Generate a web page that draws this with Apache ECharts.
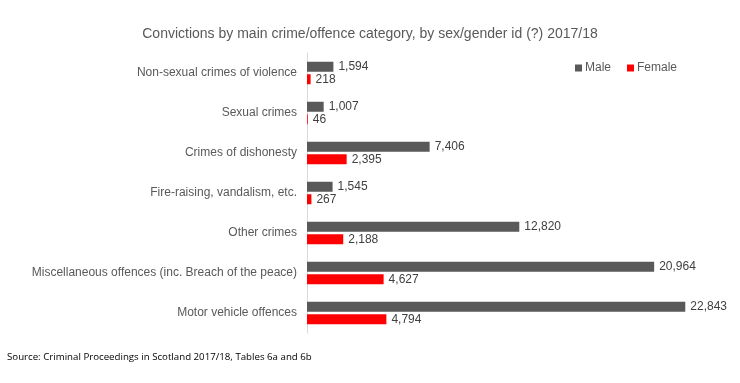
<!DOCTYPE html>
<html><head><meta charset="utf-8">
<script src="https://cdn.jsdelivr.net/npm/echarts@6/dist/echarts.min.js"></script>
<style>html,body{margin:0;padding:0;background:#fff}#c{width:740px;height:383px}</style>
</head><body><div id="c"></div>
<script>
var categories = ["Non-sexual crimes of violence","Sexual crimes","Crimes of dishonesty","Fire-raising, vandalism, etc.","Other crimes","Miscellaneous offences (inc. Breach of the peace)","Motor vehicle offences"];
var maleValues = [1594,1007,7406,1545,12820,20964,22843];
var femaleValues = [218,46,2395,267,2188,4627,4794];
var titleText = "Convictions by main crime/offence category, by sex/gender id (?) 2017/18";
var sourceText = "Source: Criminal Proceedings in Scotland 2017/18, Tables 6a and 6b";

var font = "Liberation Sans, Arial, sans-serif";
var chart = echarts.init(document.getElementById('c'));
var lbl = {show:true, position:'right', distance:5, color:'#404040', fontFamily:font, fontSize:12,
  formatter:function(p){return p.value.toLocaleString('en-US');}};
chart.setOption({
  animation:false,
  title:[{text:titleText, left:'center', top:22, textStyle:{fontFamily:font, fontSize:14, fontWeight:'normal', color:'#595959'}},
         {text:sourceText, left:2, top:347, textStyle:{fontFamily:'Open Sans, sans-serif', fontSize:9.7, fontWeight:'normal', color:'#000'}}],
  legend:{right:58, top:57, itemWidth:7, itemHeight:7, itemGap:16, icon:'rect',
    textStyle:{fontFamily:font, fontSize:12, color:'#595959', padding:[0,0,0,-2]}, data:['Male','Female']},
  grid:{left:307, right:19, top:53, height:280, containLabel:false},
  xAxis:{type:'value', min:0, max:25000, show:false},
  yAxis:{type:'category', data:categories, inverse:true,
    axisLine:{show:true, lineStyle:{color:'#d9d9d9'}}, axisTick:{show:false},
    axisLabel:{fontFamily:font, fontSize:12, color:'#595959', margin:10}},
  series:[
    {name:'Male', type:'bar', data:maleValues, barWidth:10, barGap:'25%', itemStyle:{color:'#595959'}, label:lbl},
    {name:'Female', type:'bar', data:femaleValues, barWidth:10, itemStyle:{color:'#ff0000'}, label:lbl}
  ]
});
</script></body></html>
